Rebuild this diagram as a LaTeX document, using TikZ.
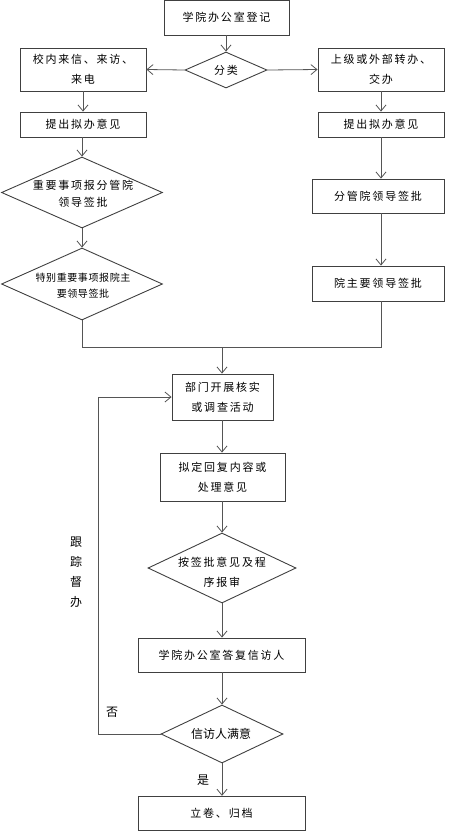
\documentclass[tikz,border=0pt]{standalone}
\usepackage{fontspec}
\usetikzlibrary{arrows.meta,shapes.geometric}
\newfontfamily\cjk[LetterSpace=16]{Noto Sans CJK SC}
\newfontfamily\cjks[LetterSpace=6]{Noto Sans CJK SC}
\newfontfamily\cjkn{Noto Sans CJK SC}
\definecolor{linec}{HTML}{555555}
\definecolor{boxc}{HTML}{404040}
\tikzset{
  box/.style={draw=boxc,line width=0.9pt,rectangle,inner sep=0pt,align=center,
    font=\cjk\fontsize{11}{20}\selectfont},
  dia/.style={draw=boxc,line width=0.9pt,diamond,inner sep=0pt},
  dtext/.style={align=center,inner sep=0pt,font=\cjk\fontsize{11}{20}\selectfont},
  lab/.style={inner sep=0pt,font=\cjkn\fontsize{12}{20}\selectfont},
  arr/.style={draw=linec,line width=0.8pt,-{Straight Barb[length=6pt,width=10pt]}},
  ln/.style={draw=linec,line width=0.8pt}
}
\begin{document}
\begin{tikzpicture}[x=1pt,y=-1pt]
\useasboundingbox (0,0) rectangle (451,831);
% nodes
\node[box,minimum width=125,minimum height=34.5] (top) at (226.5,17.75) {学院办公室登记};
\node[dia,minimum width=82,minimum height=36] (d1) at (226,70) {};
\node[dtext] (d1t) at (226,70) {分类};
\node[box,minimum width=126,minimum height=43] (l1) at (83,69.5) {校内来信、来访、\\来电};
\node[box,minimum width=126,minimum height=43] (r1) at (381,69.5) {上级或外部转办、\\交办};
\node[box,minimum width=126,minimum height=25] (l2) at (83,124.5) {提出拟办意见};
\node[box,minimum width=126,minimum height=25] (r2) at (381,124.5) {提出拟办意见};
\node[dia,minimum width=161,minimum height=71] (d2) at (82,192.5) {};
\node[dtext,font=\cjk\fontsize{11}{17}\selectfont] (d2t) at (83,194) {重要事项报分管院\\领导签批};
\node[dia,minimum width=161,minimum height=72] (d3) at (82,284) {};
\node[dtext,font=\cjks\fontsize{10}{16}\selectfont] (d3t) at (83,286) {特别重要事项报院主\\要领导签批};
\node[box,minimum width=132,minimum height=34] (r3) at (378,196) {分管院领导签批};
\node[box,minimum width=132,minimum height=35] (r4) at (378,283.5) {院主要领导签批};
\node[box,minimum width=101,minimum height=46] (b5) at (222.5,397) {部门开展核实\\或调查活动};
\node[box,minimum width=125,minimum height=48] (b6) at (222.5,477) {拟定回复内容或\\处理意见};
\node[dia,minimum width=148,minimum height=70] (d4) at (222,568) {};
\node[dtext] (d4t) at (222,572) {按签批意见及程\\序报审};
\node[box,minimum width=167,minimum height=34] (b7) at (221.5,655) {学院办公室答复信访人};
\node[dia,minimum width=122,minimum height=58] (d5) at (222,734) {};
\node[dtext,font=\cjkn\fontsize{12}{20}\selectfont] (d5t) at (221,734) {信访人满意};
\node[box,minimum width=167,minimum height=34.5] (b8) at (221.5,813.5) {立卷、归档};
% labels
\node[lab,align=center] (track) at (76,572.5) {跟\\踪\\督\\办};
\node[lab] (no) at (112,712) {否};
\node[lab] (yes) at (203,780) {是};
% coordinates
\coordinate (mL) at (82,347);
\coordinate (mR) at (381,347);
\coordinate (mM) at (222,347);
\coordinate (fb) at (98,734);
% connectors
\draw[arr] (top.south -| d1.north) -- (d1.north);
\draw[arr] (d1.west) -- (l1.east);
\draw[arr] (d1.east) -- (r1.west);
\draw[arr] (l1.south) -- (l2.north);
\draw[arr] (r1.south) -- (r2.north);
\draw[arr] (l2.south -| d2.north) -- (d2.north);
\draw[arr] (d2.south) -- (d3.north);
\draw[arr] (r2.south) -- (r2.south |- r3.north);
\draw[arr] (r2.south |- r3.south) -- (r2.south |- r4.north);
\draw[ln] (d3.south) -- (mL) -- (mR) -- (r2.south |- r4.south);
\draw[arr] (mM) -- (mM |- b5.north);
\draw[arr] (mM |- b5.south) -- (mM |- b6.north);
\draw[arr] (mM |- b6.south) -- (d4.north);
\draw[arr] (d4.south) -- (d4.south |- b7.north);
\draw[arr] (d5.north |- b7.south) -- (d5.north);
\draw[arr] (d5.south) -- (d5.south |- b8.north);
\draw[arr] (d5.west) -- (fb) |- (b5.west);
\end{tikzpicture}
\end{document}
